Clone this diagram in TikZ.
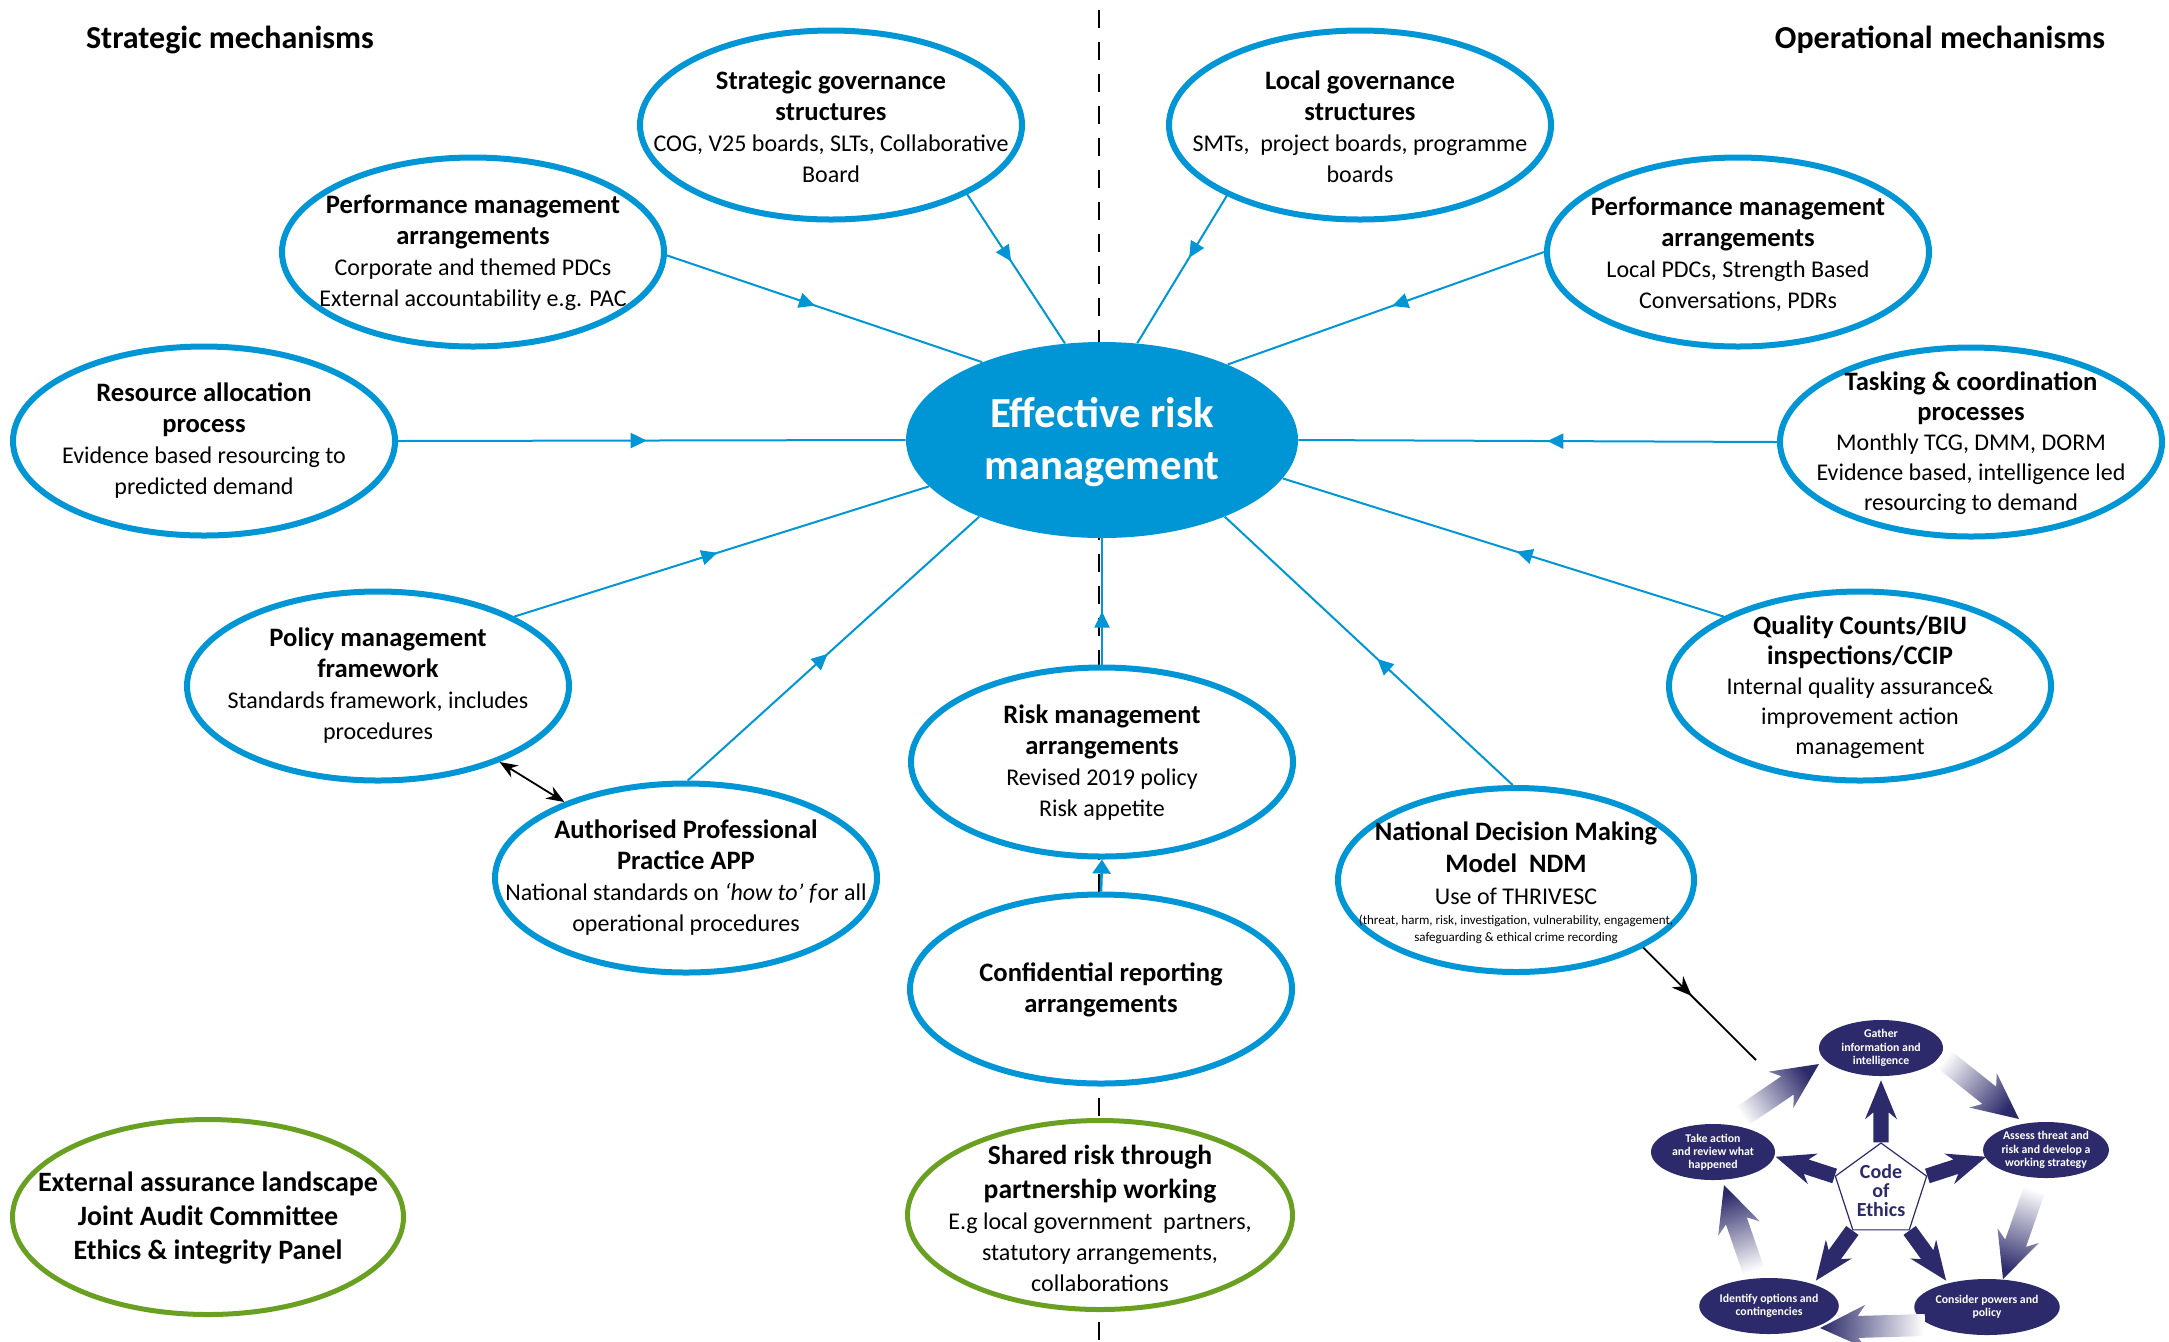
\documentclass[tikz,border=0pt]{standalone}
\usepackage{fontspec}
\setmainfont{Carlito}
\usetikzlibrary{shapes.geometric,arrows.meta,decorations.markings,calc}
\definecolor{rblue}{RGB}{0,150,214}
\definecolor{rgreen}{RGB}{106,160,34}
\definecolor{navy}{RGB}{44,42,106}
\newcommand\hd[1]{{\bfseries\fontsize{13.3}{16}\selectfont #1}}
% block arrow: #1 tail, #2 tip, #3 shaft half width, #4 head half width, #5 junction dist, #6 barb dist, #7 options
\newcommand\blockarr[7]{%
  \coordinate (ba@c) at ($(#2)!#5!(#1)$);
  \coordinate (ba@d) at ($(#2)!#6!(#1)$);
  \path[#7] ($(#1)!#3!90:(#2)$) -- ($(ba@c)!#3!-90:(#1)$) -- ($(ba@d)!#4!-90:(#1)$) -- (#2)
     -- ($(ba@d)!#4!90:(#1)$) -- ($(ba@c)!#3!90:(#1)$) -- ($(#1)!#3!-90:(#2)$) -- cycle;
}
\begin{document}
\begin{tikzpicture}[x=0.5pt,y=-0.5pt,
  bell/.style={ellipse,draw=rblue,line width=3pt,fill=white,inner sep=0pt,minimum width=191pt,minimum height=94.5pt},
  gell/.style={ellipse,draw=rgreen,line width=2.5pt,fill=white,inner sep=0pt,minimum width=192.5pt,minimum height=94.5pt},
  txt/.style={align=center,inner sep=0pt,font=\fontsize{12}{15.5}\selectfont},
  title/.style={anchor=base,inner sep=0pt,font=\bfseries\fontsize{16}{19}\selectfont},
  conn/.style={rblue,line width=1pt,postaction={decorate},
    decoration={markings,mark=at position #1 with {\arrow{Triangle[length=8pt,width=7.5pt]}}}},
  nell/.style={ellipse,fill=navy,inner sep=0pt,minimum width=62pt,minimum height=28pt,
    text=white,align=center,font=\bfseries\fontsize{5.9}{6.6}\selectfont},
  star/.style={fill=navy},
  grad/.style={top color=navy,bottom color=white,shading angle=#1},
  blk/.style={black,line width=0.9pt}
]
\useasboundingbox (0,0) rectangle (2169,1341);

% titles
\node[title] (tstrat) at (230,48) {Strategic mechanisms};
\node[title] (toper) at (1940,48) {Operational mechanisms};

% dashed divider
\coordinate (dtop) at (1099,10);
\coordinate (dbot) at (1099,1341);
\draw[black,line width=1.25pt,dash pattern=on 9pt off 7pt] (dtop) -- (dbot);

% ellipses
\node[bell] (sg)  at (831,125) {};
\node[bell] (pms) at (473,252) {};
\node[bell] (ra)  at (204,441) {};
\node[bell] (pol) at (378,686) {};
\node[bell] (app) at (686,878) {};
\node[bell] (lg)  at (1360,125) {};
\node[bell] (pmo) at (1738,252) {};
\node[bell] (tc)  at (1971,442) {};
\node[bell] (qc)  at (1860,686) {};
\node[bell] (rma) at (1102,762) {};
\node[bell] (cr)  at (1101,989) {};
\node[bell,minimum width=178pt,minimum height=92pt] (ndm) at (1516,880) {};
\node[gell] (srp) at (1100,1215) {};
\node[gell,minimum width=195.5pt,minimum height=97.5pt] (ext) at (208,1217) {};
\node[ellipse,fill=rblue,inner sep=0pt,minimum width=196pt,minimum height=98pt] (erm) at (1102,440) {};

% texts
\node[txt] (sg-t)  at (831,127) {\hd{Strategic governance}\\\hd{structures}\\COG, V25 boards, SLTs, Collaborative\\Board};
\node[txt] (pms-t) at (473,253) {\hd{Performance management}\\\hd{arrangements}\\Corporate and themed PDCs\\External accountability e.g. PAC};
\node[txt] (ra-t)  at (204,441) {\hd{Resource allocation}\\\hd{process}\\Evidence based resourcing to\\predicted demand};
\node[txt] (pol-t) at (378,686) {\hd{Policy management}\\\hd{framework}\\Standards framework, includes\\procedures};
\node[txt] (app-t) at (686,878) {\hd{Authorised Professional}\\\hd{Practice APP}\\National standards on \textit{‘how to’ f}or all\\operational procedures};
\node[txt] (lg-t)  at (1360,127) {\hd{Local governance}\\\hd{structures}\\SMTs,\ \ project boards, programme\\boards};
\node[txt] (pmo-t) at (1738,254) {\hd{Performance management}\\\hd{arrangements}\\Local PDCs, Strength Based\\Conversations, PDRs};
\node[txt,font=\fontsize{12}{15}\selectfont] (tc-t) at (1971,443) {\hd{Tasking \& coordination}\\\hd{processes}\\Monthly TCG, DMM, DORM\\Evidence based, intelligence led\\resourcing to demand};
\node[txt,font=\fontsize{12}{15}\selectfont] (qc-t) at (1860,687) {\hd{Quality Counts/BIU}\\\hd{inspections/CCIP}\\Internal quality assurance\&\\improvement action\\management};
\node[txt] (rma-t) at (1102,763) {\hd{Risk management}\\\hd{arrangements}\\Revised 2019 policy\\Risk appetite};
\node[txt] (cr-t)  at (1101,990) {\hd{Confidential reporting}\\\hd{arrangements}};
\node[txt,font=\fontsize{12}{16}\selectfont] (ndm-t) at (1516,863) {\hd{National Decision Making}\\\hd{Model\ \ NDM}\\Use of THRIVESC};
\node[txt,font=\fontsize{6.5}{8.5}\selectfont] (ndm-s) at (1516,929) {(threat, harm, risk, investigation, vulnerability, engagement,\\safeguarding \& ethical crime recording};
\node[txt,font=\fontsize{12}{15.5}\selectfont] (srp-t) at (1100,1218) {{\bfseries\fontsize{13.8}{17}\selectfont Shared risk through}\\[1.5pt]{\bfseries\fontsize{13.8}{17}\selectfont partnership working}\\E.g local government\ \ partners,\\statutory arrangements,\\collaborations};
\node[txt,font=\bfseries\fontsize{14}{17}\selectfont] (ext-t) at (208,1218) {External assurance landscape\\Joint Audit Committee\\Ethics \& integrity Panel};
\node[align=center,inner sep=0pt,text=white,font=\bfseries\fontsize{21.4}{26}\selectfont] (erm-t) at (1102,442) {Effective risk\\management};

% connectors to centre
\draw[conn=0.45] (sg.-27) -- (erm.111);
\draw[conn=0.47] (pms.-1) -- (erm.147);
\draw[conn=0.49] (ra.0) -- (erm.180);
\draw[conn=0.49] (pol.27) -- (erm.195);
\draw[conn=0.48] (app.89) -- (erm.212);
\draw[conn=0.42] (rma.90) -- (erm.270);
\draw[conn=0.47] (ndm.92) -- (erm.-32);
\draw[conn=0.47] (qc.153) -- (erm.-12);
\draw[conn=0.48] (tc.180) -- (erm.0);
\draw[conn=0.48] (pmo.180) -- (erm.31);
\draw[conn=0.42] (lg.208) -- (erm.70);
\draw[rblue,line width=1.3pt,-{Triangle[length=7pt,width=9pt]}] (cr.90) -- (rma.270);

% black arrows
\draw[blk,{Stealth[length=9pt,width=7pt]}-{Stealth[length=9pt,width=7pt]}] (pol.-32) -- (app.148);
\coordinate (ndmend) at (1756,1060);
\draw[blk,postaction={decorate},decoration={markings,mark=at position 0.43 with {\arrow{Stealth[length=10pt,width=8pt]}}}] (ndm.-28) -- (ndmend);

% Code of Ethics graphic
\node[regular polygon,regular polygon sides=5,minimum size=48pt,inner sep=0pt,fill=white,draw=navy,line width=0.6pt,
  text=navy,align=center,font=\bfseries\fontsize{10}{9.5}\selectfont] (coe) at (1881,1191) {Code\\of\\Ethics};
\node[nell] (gat) at (1881,1048) {Gather\\information and\\intelligence};
\node[nell] (ass) at (2046,1150) {Assess threat and\\risk and develop a\\working strategy};
\node[nell] (con) at (1987,1307) {Consider powers and\\policy};
\node[nell] (ide) at (1769,1306) {Identify options and\\contingencies};
\node[nell] (tak) at (1713,1152) {Take action\\and review what\\happened};

% star arrows
\foreach \k in {1,...,5}{
  \coordinate (st\k) at ($(coe.corner \k)!-31pt!(coe.center)$);
  \blockarr{coe.corner \k}{st\k}{3.8pt}{8pt}{16pt}{19.5pt}{star}
}

% gradient cycle arrows
\coordinate (g1a) at (1940,1056); \coordinate (g1b) at (2019,1119);
\coordinate (g2a) at (2036,1185); \coordinate (g2b) at (2003,1279);
\coordinate (g3a) at (1925,1325); \coordinate (g3b) at (1820,1328);
\coordinate (g4a) at (1755,1275); \coordinate (g4b) at (1724,1185);
\coordinate (g5a) at (1738,1119); \coordinate (g5b) at (1819,1064);
\blockarr{g1a}{g1b}{5.5pt}{11pt}{19pt}{23pt}{grad=-128}
\blockarr{g2a}{g2b}{5.5pt}{11pt}{19pt}{23pt}{grad=-199}
\blockarr{g3a}{g3b}{5.5pt}{11pt}{19pt}{23pt}{grad=88}
\blockarr{g4a}{g4b}{5.5pt}{11pt}{19pt}{23pt}{grad=19}
\blockarr{g5a}{g5b}{5.5pt}{11pt}{19pt}{23pt}{grad=-56}
\end{tikzpicture}
\end{document}
